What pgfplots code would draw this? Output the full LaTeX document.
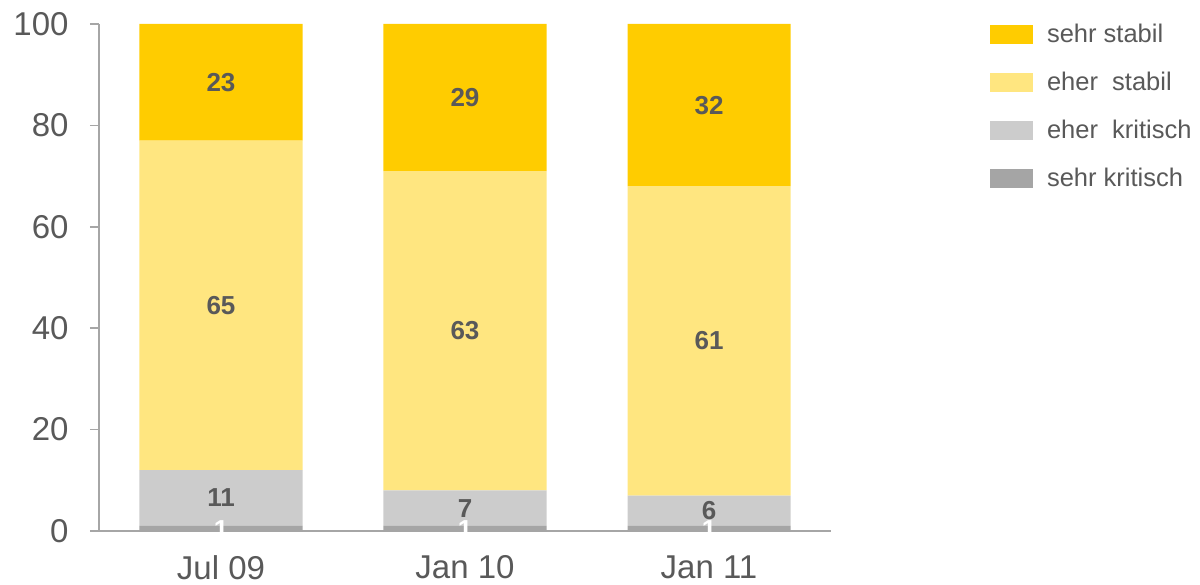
\documentclass[border=0pt]{standalone}
\usepackage{fontspec}
\setmainfont{Liberation Sans}
\usepackage{pgfplots}
\usepackage{pgfplotstable}
\pgfplotsset{compat=1.18}

\definecolor{sehrstabil}{HTML}{FFCC00}
\definecolor{eherstabil}{HTML}{FFE680}
\definecolor{eherkritisch}{HTML}{CCCCCC}
\definecolor{sehrkritisch}{HTML}{A5A5A5}
\definecolor{txtgrey}{HTML}{595959}
\definecolor{axgrey}{HTML}{A6A6A6}

% shares per wave (x = 0: Jul 09, 1: Jan 10, 2: Jan 11)
\pgfplotstableread{
x sk ek es ss
0 1 11 65 23
1 1 7  63 29
2 1 6  61 32
}\shares

% label positions (middle of each segment)
\pgfplotstableread{
x y label
0 6.5  11
0 44.5 65
0 88.5 23
1 4.5  7
1 39.5 63
1 85.5 29
2 4    6
2 37.5 61
2 84   32
}\greylabels

\pgfplotstableread{
x y label
0 0.2 1
1 0.2 1
2 0.2 1
}\whitelabels

\begin{document}
\begin{tikzpicture}
\useasboundingbox (-99pt,-53pt) rectangle (1101pt,531pt);
\begin{axis}[
    at={(0,0)}, anchor=south west,
    scale only axis,
    width=732pt, height=507pt,
    ybar stacked, bar width=163pt,
    xmin=-0.5, xmax=2.5,
    ymin=0, ymax=100,
    ytick={0,20,...,100},
    xtick=data,
    xticklabels={Jul 09, Jan 10, Jan 11},
    axis x line*=bottom,
    axis y line*=left,
    axis line style={draw=axgrey, line width=1.5pt, -},
    tick align=outside,
    major tick length=9pt,
    major y tick style={draw=axgrey, line width=1.5pt},
    major x tick style={draw=none},
    /pgf/number format/assume math mode=true,
    tick label style={font=\fontsize{33}{36}\selectfont, text=txtgrey},
    yticklabel style={xshift=-18pt},
    xticklabel style={yshift=-12pt},
    legend style={draw=none, fill=none,
        at={(axis description cs:1.217,1.0)}, anchor=north west,
        font=\fontsize{25.5}{28}\selectfont, text=txtgrey,
        row sep=28pt, inner sep=0pt,
        nodes={inner sep=0pt}},
    legend cell align=left,
    reverse legend,
    legend image code/.code={\fill[#1] (0pt,-9.5pt) rectangle (43pt,9.5pt);},
]
\addplot[draw=none, fill=sehrkritisch] table[x=x, y=sk]{\shares};
\addlegendentry{\hspace{14pt}sehr kritisch}
\addplot[draw=none, fill=eherkritisch] table[x=x, y=ek]{\shares};
\addlegendentry{\hspace{14pt}eher~ kritisch}
\addplot[draw=none, fill=eherstabil] table[x=x, y=es]{\shares};
\addlegendentry{\hspace{14pt}eher~ stabil}
\addplot[draw=none, fill=sehrstabil] table[x=x, y=ss]{\shares};
\addlegendentry{\hspace{14pt}sehr stabil}
\end{axis}

\begin{axis}[
    at={(0,0)}, anchor=south west,
    scale only axis,
    width=732pt, height=507pt,
    xmin=-0.5, xmax=2.5,
    ymin=0, ymax=100,
    hide axis, clip=false,
]
\addplot[only marks, mark=*, mark size=0pt, draw=none, fill=none,
    nodes near coords, point meta=explicit symbolic,
    nodes near coords style={anchor=center, inner sep=0pt,
        font=\fontsize{26}{28}\selectfont\bfseries, text=txtgrey}]
    table[x=x, y=y, meta=label]{\greylabels};
\addplot[only marks, mark=*, mark size=0pt, draw=none, fill=none,
    nodes near coords, point meta=explicit symbolic,
    nodes near coords style={anchor=center, inner sep=0pt,
        font=\fontsize{26}{28}\selectfont\bfseries, text=white}]
    table[x=x, y=y, meta=label]{\whitelabels};
\end{axis}
\end{tikzpicture}
\end{document}
